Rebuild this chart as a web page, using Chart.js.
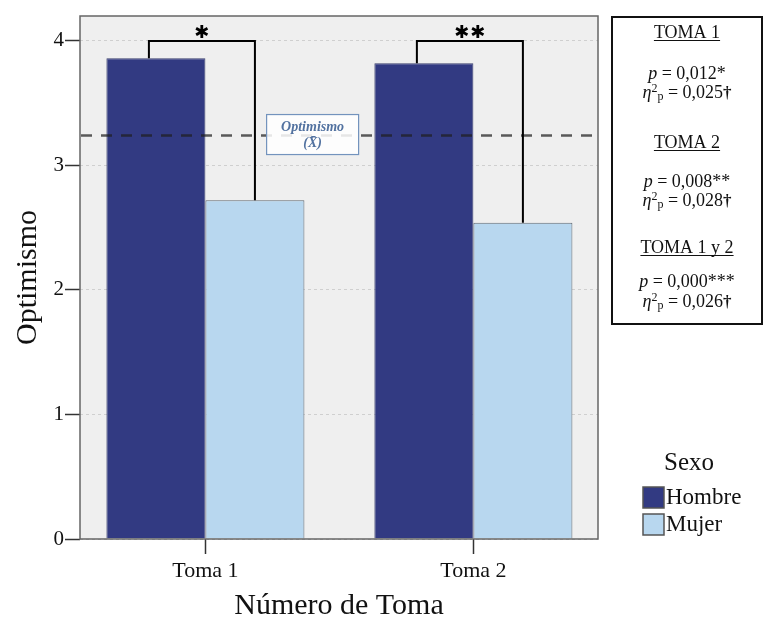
<!DOCTYPE html>
<html>
<head>
<meta charset="utf-8">
<script src="https://cdn.jsdelivr.net/npm/chart.js@4"></script>
<style>
  html, body { margin: 0; padding: 0; background: #ffffff; }
  #wrap { position: relative; width: 765px; height: 621px; }
</style>
</head>
<body>
<div id="wrap"><canvas id="chart"></canvas></div>
<script>
// Optimismo medio por sexo en cada toma
const categories = ['Toma 1', 'Toma 2'];
const seriesNames = ['Hombre', 'Mujer'];
const hombreValues = [3.86, 3.82];
const mujerValues = [2.72, 2.54];
const yTickValues = [0, 1, 2, 3, 4];
const overallMean = 3.24;
const meanLabel = ['Optimismo', '(X\u0304)'];
const significanceMarks = ['*', '**'];
const legendTitle = 'Sexo';
const statsTitles = ['TOMA 1', 'TOMA 2', 'TOMA 1 y 2'];
const statsP = ['0,012*', '0,008**', '0,000***'];
const statsEta = ['0,025', '0,028', '0,026'];

const SERIF = "'Liberation Serif', 'Times New Roman', serif";
const colors = ['#323a82', '#b8d7ef'];
const seriesValues = [hombreValues, mujerValues];

// Plot panel background
const plotBackground = {
  id: 'plotBackground',
  beforeDraw(chart) {
    const { ctx, chartArea: a } = chart;
    ctx.save();
    ctx.fillStyle = '#efefef';
    ctx.fillRect(a.left, a.top, a.right - a.left, a.bottom - a.top);
    ctx.restore();
  }
};

// Frame, reference mean line with its label, and significance brackets
const overlays = {
  id: 'overlays',
  afterDatasetsDraw(chart) {
    const { ctx, chartArea: a, scales: { x, y } } = chart;
    ctx.save();

    // frame
    ctx.strokeStyle = '#666';
    ctx.lineWidth = 1.5;
    ctx.strokeRect(a.left, a.top, a.right - a.left, a.bottom - a.top);

    // dashed mean line
    const my = y.getPixelForValue(overallMean);
    ctx.setLineDash([11, 9]);
    ctx.strokeStyle = 'rgba(30,30,30,0.72)';
    ctx.lineWidth = 2.6;
    ctx.beginPath();
    ctx.moveTo(a.left + 1, my);
    ctx.lineTo(a.right - 5, my);
    ctx.stroke();
    ctx.setLineDash([]);

    // mean label box
    const bx = x.getPixelForValue(1.4);
    const bw = 92, bh = 40;
    ctx.fillStyle = 'rgba(255,255,255,0.85)';
    ctx.fillRect(bx - bw / 2, my - 21, bw, bh);
    ctx.strokeStyle = '#7393bd';
    ctx.lineWidth = 1.2;
    ctx.strokeRect(bx - bw / 2, my - 21, bw, bh);
    ctx.fillStyle = '#5272a0';
    ctx.font = 'italic bold 14px ' + SERIF;
    ctx.textAlign = 'center';
    ctx.textBaseline = 'middle';
    ctx.fillText(meanLabel[0], bx, my - 8.5);
    ctx.fillText(meanLabel[1], bx, my + 7.5);

    // significance brackets
    const m0 = chart.getDatasetMeta(0), m1 = chart.getDatasetMeta(1);
    const topY = y.getPixelForValue(4.0);
    const starY = y.getPixelForValue(4.08);
    ctx.strokeStyle = '#000';
    ctx.lineWidth = 2;
    categories.forEach((c, i) => {
      const bh0 = m0.data[i], bh1 = m1.data[i];
      const xl = bh0.x - 7, xr = bh1.x;
      ctx.beginPath();
      ctx.moveTo(xl, bh0.y);
      ctx.lineTo(xl, topY);
      ctx.lineTo(xr, topY);
      ctx.lineTo(xr, bh1.y);
      ctx.stroke();

      const marks = significanceMarks[i].length;
      const cx = (xl + xr) / 2;
      ctx.font = '18px "DejaVu Sans"';
      ctx.fillStyle = '#000';
      ctx.textAlign = 'center';
      ctx.textBaseline = 'alphabetic';
      const m = ctx.measureText('\u2731');
      const off = (m.actualBoundingBoxAscent - m.actualBoundingBoxDescent) / 2;
      for (let k = 0; k < marks; k++) {
        const sx = cx + (k - (marks - 1) / 2) * 16;
        ctx.fillText('\u2731', sx, starY + off);
      }
    });
    ctx.restore();
  }
};

function drawRuns(ctx, runs, cx, baseline) {
  let total = 0;
  runs.forEach(r => { ctx.font = r.font; r.w = ctx.measureText(r.t).width; total += r.w; });
  let xx = cx - total / 2;
  const start = xx;
  runs.forEach(r => { ctx.font = r.font; ctx.fillText(r.t, xx, baseline + (r.dy || 0)); xx += r.w; });
  return { start, end: xx };
}

// Statistics panel and legend at the right
const sidePanel = {
  id: 'sidePanel',
  afterDraw(chart) {
    const ctx = chart.ctx;
    ctx.save();
    // statistics box
    ctx.strokeStyle = '#111';
    ctx.lineWidth = 2;
    ctx.strokeRect(612, 17, 150, 307);

    ctx.fillStyle = '#111';
    ctx.textAlign = 'left';
    ctx.textBaseline = 'alphabetic';
    const cx = 687;
    const reg = '18px ' + SERIF;
    const ital = 'italic 18px ' + SERIF;
    const small = '12px ' + SERIF;
    const bold = 'bold 17px ' + SERIF;
    const baselines = [[38, 79, 98], [148, 187, 206], [253, 287, 307]];
    statsTitles.forEach((t, i) => {
      const [bt, bp, be] = baselines[i];
      const r = drawRuns(ctx, [{ t, font: '18px ' + SERIF }], cx, bt);
      ctx.strokeStyle = '#111';
      ctx.lineWidth = 1;
      ctx.beginPath();
      ctx.moveTo(r.start, bt + 2.5);
      ctx.lineTo(r.end, bt + 2.5);
      ctx.stroke();
      drawRuns(ctx, [{ t: 'p', font: ital }, { t: ' = ' + statsP[i], font: reg }], cx, bp);
      drawRuns(ctx, [
        { t: '\u03b7', font: ital },
        { t: '2', font: small, dy: -6 },
        { t: 'p', font: small, dy: 2 },
        { t: ' = ' + statsEta[i], font: reg },
        { t: '\u2020', font: bold }
      ], cx, be);
    });

    // legend
    ctx.fillStyle = '#111';
    ctx.font = '25px ' + SERIF;
    ctx.textAlign = 'center';
    ctx.textBaseline = 'middle';
    ctx.fillText(legendTitle, 689, 463);
    chart.data.datasets.forEach((ds, i) => {
      const top = 487 + i * 27;
      ctx.fillStyle = ds.backgroundColor;
      ctx.fillRect(643, top, 21, 21);
      ctx.strokeStyle = '#555';
      ctx.lineWidth = 1.5;
      ctx.strokeRect(643, top, 21, 21);
      ctx.fillStyle = '#111';
      ctx.font = '23px ' + SERIF;
      ctx.textAlign = 'left';
      ctx.fillText(ds.label, 666, top + 11);
    });
    ctx.restore();
  }
};

new Chart(document.getElementById('chart'), {
  type: 'bar',
  data: {
    datasets: seriesNames.map((name, s) => ({
      label: name,
      data: seriesValues[s].map((v, i) => ({ x: i + 1, y: v })),
      backgroundColor: colors[s],
      borderColor: s === 0 ? '#3a3f6e' : '#5f6770',
      borderWidth: 1,
      categoryPercentage: 0.739,
      barPercentage: 1.0
    }))
  },
  options: {
    responsive: true,
    maintainAspectRatio: false,
    animation: false,
    layout: { padding: { left: 0, top: 16, right: 167, bottom: 0 } },
    plugins: { legend: { display: false }, tooltip: { enabled: false } },
    scales: {
      x: {
        type: 'linear',
        min: 0.532,
        max: 2.465,
        offset: false,
        afterBuildTicks: s => { s.ticks = categories.map((c, i) => ({ value: i + 1 })); },
        afterFit: s => { s.height = 82; },
        ticks: {
          callback: v => categories[Math.round(v) - 1] || '',
          font: { family: SERIF, size: 22 },
          color: '#111',
          padding: 4,
          autoSkip: false,
          maxRotation: 0
        },
        grid: { offset: false, drawOnChartArea: false, drawTicks: true, tickLength: 15, tickColor: '#333', tickWidth: 1.5 },
        border: { display: false },
        title: {
          display: true,
          text: 'Número de Toma',
          font: { family: SERIF, size: 30, lineHeight: 1.0 },
          color: '#111',
          padding: { top: 0, bottom: 0 }
        }
      },
      y: {
        min: 0,
        max: 4.2,
        afterBuildTicks: s => { s.ticks = yTickValues.map(v => ({ value: v })); },
        afterFit: s => { s.width = 80; },
        ticks: {
          font: { family: SERIF, size: 21 },
          color: '#111',
          padding: 1
        },
        grid: { color: '#cfcfcf', lineWidth: 1, tickColor: '#333', tickLength: 15, tickWidth: 1.5 },
        border: { display: false, dash: [3, 3] },
        title: {
          display: true,
          text: 'Optimismo',
          font: { family: SERIF, size: 30 },
          color: '#111',
          padding: { top: 10, bottom: 0 }
        }
      }
    }
  },
  plugins: [plotBackground, overlays, sidePanel]
});
</script>
</body>
</html>
